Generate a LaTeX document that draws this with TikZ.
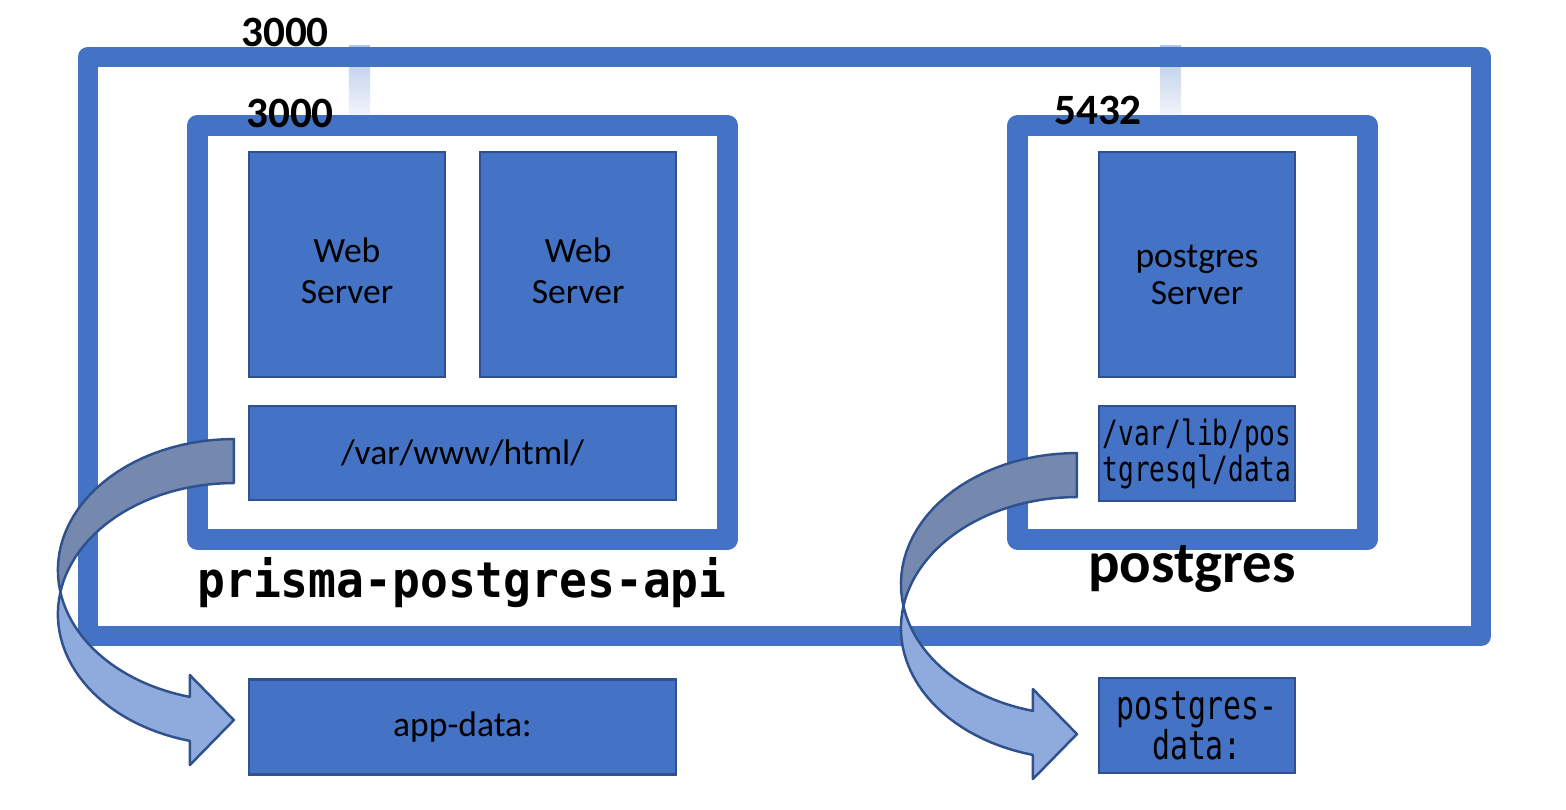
\documentclass[tikz,border=0pt]{standalone}
\usepackage{fontspec}
\setmainfont{Carlito}
\newfontfamily\pathfont[FakeStretch=0.75]{DejaVu Sans Mono}
\newfontfamily\namefont[FakeStretch=0.94]{DejaVu Sans Mono}
\usepackage{tikz}
\usetikzlibrary{positioning}
\definecolor{boxblue}{RGB}{68, 114, 196}
\definecolor{edgeblue}{RGB}{47, 82, 143}
\definecolor{bandback}{RGB}{117, 137, 174}
\definecolor{bandfront}{RGB}{143, 170, 220}
\definecolor{porttop}{RGB}{180, 199, 231}
\definecolor{portbottom}{RGB}{242, 245, 251}
\tikzstyle{frame} = [rectangle, draw=boxblue, line width=5.7pt, line join=round, inner sep=0pt, outer sep=0pt]
\tikzstyle{container} = [frame, line width=6pt]
\tikzstyle{block} = [rectangle, draw=edgeblue, fill=boxblue, line width=0.6pt, inner sep=2pt, outer sep=0pt, align=center, font=\fontsize{10.1}{11.6}\selectfont]
\tikzstyle{portbar} = [rectangle, top color=porttop, bottom color=portbottom, draw=none, minimum width=0.21cm, minimum height=0.69cm, inner sep=0pt]
\tikzstyle{port} = [anchor=base, inner sep=0pt, font=\bfseries\fontsize{12.3}{14}\selectfont]
\tikzstyle{band} = [draw=edgeblue, line width=0.7pt, line join=round]
\tikzset{
    volarrow/.pic={
        \filldraw[band, fill=bandback] plot[domain=90:189.67, samples=30] ({176*cos(\x)},{-131*sin(\x)})
            -- plot[domain=170.33:90, samples=30] ({176*cos(\x)},{44-131*sin(\x)}) -- cycle;
        \filldraw[band, fill=bandfront] plot[domain=170.33:255.5, samples=30] ({176*cos(\x)},{44-131*sin(\x)})
            -- (-44,195) -- (0,150) -- (-44,105)
            -- plot[domain=255.5:189.67, samples=30] ({176*cos(\x)},{-131*sin(\x)}) -- cycle;
    }
}

\begin{document}
\begin{tikzpicture}[x=0.01cm, y=-0.01cm]
    \useasboundingbox (0,0) rectangle (1566,810);

    % Port mappings
    \node[portbar] (bar1) at (359.5,80.5) {};
    \node[portbar] (bar2) at (1170.5,80.5) {};

    % Compose network
    \node[frame, minimum width=13.93cm, minimum height=5.79cm] (net) at (784.5,346.5) {};

    % API container
    \node[container, minimum width=5.3cm, minimum height=4.135cm] (api) at (462.5,332.25) {};
    \node[block, minimum width=1.96cm, minimum height=2.25cm, text height=22pt, text depth=0pt] (web1) at (347,264.5) {Web\\Server};
    \node[block, minimum width=1.96cm, minimum height=2.25cm, text height=22pt, text depth=0pt, right=0.35cm of web1] (web2) {Web\\Server};
    \node[block, minimum width=4.27cm, minimum height=0.94cm] (html) at (462.5,453) {/var/www/html/};

    % Database container
    \node[container, minimum width=3.495cm, minimum height=4.135cm] (db) at (1192.75,332.25) {};
    \node[block, minimum width=1.96cm, minimum height=2.25cm, text height=22.6pt, text depth=0pt, font=\fontsize{10.1}{10.5}\selectfont] (pgserver) at (1197,264.5) {postgres\\Server};
    \node[block, minimum width=1.96cm, minimum height=0.95cm, inner xsep=0.5pt, align=left, font=\pathfont\fontsize{9.9}{10.2}\selectfont] (pgdata) at (1197,453.5) {/var/lib/pos\\tgresql/data};

    % Volumes
    \node[block, minimum width=4.27cm, minimum height=0.95cm] (appvol) at (462.5,727) {app-data:};
    \node[block, minimum width=1.96cm, minimum height=0.95cm, font=\pathfont\fontsize{11.3}{11.4}\selectfont] (pgvol) at (1197,725.5) {postgres-\\data:};

    % Labels
    \node[port] (hostport) at (285,47) {3000};
    \node[port] (apiport) at (290,128) {3000};
    \node[port] (dbport) at (1098,125) {5432};
    \node[anchor=base, inner sep=0pt, font=\namefont\bfseries\fontsize{14}{16}\selectfont] (apiname) at (462,598) {prisma-postgres-api};
    \node[anchor=base, inner sep=0pt, font=\bfseries\fontsize{16.7}{20}\selectfont] (dbname) at (1192,583) {postgres};

    % Volume mounts
    \pic at ([xshift=-0.15cm, yshift=-1.17cm]html.west) {volarrow};
    \pic at ([xshift=-0.22cm, yshift=-1.305cm]pgdata.west) {volarrow};
\end{tikzpicture}
\end{document}
